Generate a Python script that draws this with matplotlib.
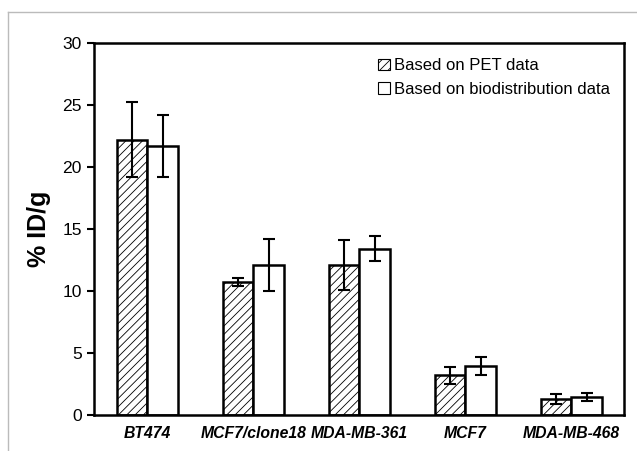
import matplotlib
matplotlib.use("Agg")
import matplotlib.pyplot as plt
import numpy as np
from matplotlib.lines import Line2D

categories = ["BT474", "MCF7/clone18", "MDA-MB-361", "MCF7", "MDA-MB-468"]
pet_values = [22.2, 10.7, 12.1, 3.2, 1.3]
pet_errors = [3.0, 0.3, 2.0, 0.7, 0.4]
bio_values = [21.7, 12.1, 13.4, 3.95, 1.45]
bio_errors = [2.5, 2.1, 1.0, 0.75, 0.35]
series_labels = ["Based on PET data", "Based on biodistribution data"]
yticks = [0, 5, 10, 15, 20, 25, 30]

plt.rcParams['font.family'] = ['Liberation Sans', 'DejaVu Sans']
plt.rcParams['hatch.linewidth'] = 0.6

fig = plt.figure(figsize=(6.37, 4.51), dpi=100)
ax = fig.add_axes([0.148, 0.080, 0.832, 0.825])

x = np.arange(len(categories))
w = 0.29
ax.bar(x - w/2, pet_values, w, facecolor='white', edgecolor='black', hatch='////',
       linewidth=1.8, label=series_labels[0], zorder=2)
ax.bar(x + w/2, bio_values, w, facecolor='white', edgecolor='black',
       linewidth=1.8, label=series_labels[1], zorder=2)
ax.errorbar(x - w/2, pet_values, yerr=pet_errors, fmt='none', ecolor='black',
            elinewidth=1.5, capsize=4, capthick=1.5, zorder=3)
ax.errorbar(x + w/2, bio_values, yerr=bio_errors, fmt='none', ecolor='black',
            elinewidth=1.5, capsize=4, capthick=1.5, zorder=3)

ax.set_xlim(-0.5, len(categories) - 0.5)
ax.set_ylim(0, 30)
ax.set_yticks(yticks)
ax.set_yticklabels([str(v) for v in yticks], fontsize=12.6)
ax.set_xticks(x)
ax.set_xticklabels(categories, fontsize=11.3, fontweight='bold', fontstyle='italic')
ax.tick_params(axis='x', length=0, pad=8)
ax.tick_params(axis='y', direction='out', length=5, width=1.5, pad=4)
for s in ax.spines.values():
    s.set_linewidth(1.8)
ax.set_ylabel("% ID/g", fontsize=18, fontweight='bold', labelpad=8)

leg = ax.legend(loc='upper right', frameon=False, fontsize=12,
                handlelength=0.7, handleheight=0.7, handletextpad=0.25,
                borderaxespad=0.3, labelspacing=0.5, bbox_to_anchor=(0.995, 0.99))
for h in leg.legend_handles:
    h.set_linewidth(0.8)

# light gray frame lines of the original figure
fig.add_artist(Line2D([0.013, 1.0], [0.973, 0.973], color='#bbbbbb', lw=1.0, transform=fig.transFigure))
fig.add_artist(Line2D([0.013, 0.013], [0.0, 0.973], color='#bbbbbb', lw=1.0, transform=fig.transFigure))

fig.savefig("out.png", dpi=100)
